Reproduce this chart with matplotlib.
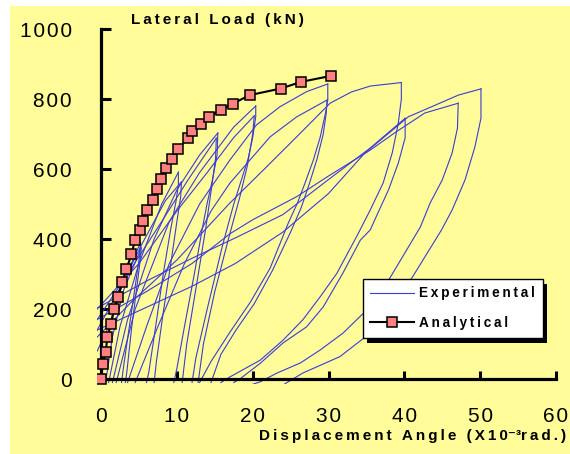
import numpy as np
import matplotlib.pyplot as plt
from matplotlib.patches import Rectangle

plt.rcParams['font.family'] = ['Liberation Sans', 'DejaVu Sans']

# analytical curve (x10^-3 rad, kN)
ana_x = [0, 0.22, 0.62, 0.83, 1.32, 1.72, 2.28, 2.77, 3.34, 4.0, 4.49, 5.12, 5.52,
         6.12, 6.8, 7.42, 7.88, 8.52, 9.38, 10.2, 11.5, 12.05, 13.15, 14.3, 15.8,
         17.4, 19.6, 23.7, 26.4, 30.3]
ana_y = [0, 42, 78, 120, 157, 199, 235, 277, 313, 356, 397, 426, 452,
         483, 511, 544, 571, 603, 630, 658, 690, 709, 729, 750, 769,
         787, 811, 830, 849, 866]

# experimental hysteresis, one list of (angle, load) per branch
load_05a = [(-0.5, 80), (1.0, 150), (2.5, 250), (4.0, 330), (5.2, 390)]
unload_05a = [(5.2, 390), (5.1, 355), (4.6, 280), (3.8, 160), (3.0, 40), (2.7, -10)]
load_05b = [(0.6, -10), (1.5, 120), (3.0, 255), (5.3, 375)]
unload_05b = [(5.3, 375), (5.2, 345), (4.7, 260), (4.0, 140), (3.4, 20), (3.2, -10)]
load_10a = [(1.0, -10), (2.5, 150), (5.0, 330), (8.0, 500), (10.2, 591)]
unload_10a = [(10.2, 591), (10.2, 555), (9.9, 510), (9.2, 430), (8.2, 300), (7.2, 150), (6.3, 20), (6.0, -10)]
load_10b = [(-0.5, 140), (2.5, 260), (5.5, 390), (8.5, 510), (10.6, 563)]
unload_10b = [(10.6, 563), (10.5, 520), (10.0, 450), (9.2, 330), (8.2, 190), (7.3, 50), (7.0, -10)]
load_15a = [(1.5, -10), (3.5, 170), (7.0, 400), (10.0, 540), (13.0, 640), (15.4, 703)]
unload_15a = [(15.4, 703), (15.3, 640), (14.7, 570), (14.0, 503), (13.4, 435), (12.3, 300), (11.0, 150), (10.0, 30), (9.6, -10)]
load_15b = [(-0.5, 170), (3.5, 300), (8.0, 450), (11.5, 570), (15.2, 688)]
unload_15b = [(15.2, 688), (15.1, 630), (14.6, 550), (13.8, 430), (12.6, 270), (11.3, 100), (10.7, -10)]
load_20a = [(2.0, -10), (4.5, 200), (9.0, 450), (13.0, 590), (17.5, 720), (20.4, 780)]
unload_20a = [(20.4, 780), (20.4, 750), (20.0, 690), (19.4, 630), (18.6, 575), (17.5, 500), (16.0, 380), (14.0, 200), (12.5, 60), (12.0, -10)]
load_20b = [(-0.5, 200), (5.0, 330), (10.0, 480), (14.0, 590), (17.5, 690), (20.2, 752)]
unload_20b = [(20.2, 752), (20.0, 700), (19.3, 610), (18.3, 520), (16.8, 400), (15.0, 250), (13.5, 100), (12.8, -10)]
load_30a = [(3.5, -10), (6.0, 150), (9.0, 330), (13.0, 500), (17.0, 626), (20.5, 726), (23.6, 778), (27.1, 821), (29.9, 843)]
unload_30a = [(29.9, 843), (29.9, 797), (29.6, 760), (28.9, 691), (28.0, 626), (26.9, 560), (25.9, 503), (24.7, 446), (22.3, 317), (19.7, 220), (17.0, 134), (14.5, 50), (13.0, -10)]
load_30b = [(4.5, -10), (7.5, 150), (11.0, 330), (14.5, 480), (17.0, 560), (22.3, 692), (25.8, 749), (29.8, 797)]
unload_30b = [(29.8, 797), (29.7, 760), (29.3, 700), (28.5, 630), (27.5, 560), (26.4, 490), (25.0, 420), (22.6, 310), (20.2, 215), (17.8, 140), (15.8, 70), (14.5, -10)]
load_40a = [(-0.5, 120), (4.0, 220), (10.0, 340), (17.0, 503), (21.4, 597), (25.8, 692), (30.2, 788), (33.0, 820), (35.5, 837), (39.6, 847)]
unload_40a = [(39.6, 847), (39.6, 800), (39.2, 731), (38.4, 646), (37.2, 560), (35.5, 483), (33.8, 411), (31.1, 302), (28.9, 235), (26.6, 169), (24.0, 111), (21.0, 54), (17.0, 6), (15.8, -10)]
load_40b = [(-0.5, 203), (6.0, 280), (12.0, 345), (17.7, 403), (24.0, 470), (30.0, 570), (35.5, 660), (40.1, 745)]
unload_40b = [(40.1, 745), (40.1, 689), (39.2, 617), (37.9, 540), (36.5, 474), (35.5, 426), (34.2, 397), (31.9, 303), (29.3, 206), (27.1, 149), (24.0, 103), (21.0, 45), (18.3, 0), (17.5, -10)]
load_47 = [(-0.5, 170), (6.0, 250), (12.0, 330), (17.0, 415), (20.0, 455), (25.8, 521), (30.0, 580), (35.5, 654), (38.7, 703), (42.7, 760), (47.1, 788)]
unload_47 = [(47.1, 788), (47.0, 717), (46.3, 646), (45.0, 569), (43.4, 503), (42.1, 434), (38.1, 289), (34.6, 188), (31.9, 131), (28.9, 83), (26.3, 46), (23.2, 17), (21.0, -8), (20.0, -15)]
load_50 = [(-0.5, 140), (6.0, 205), (12.0, 265), (17.7, 330), (24.0, 420), (30.0, 530), (34.8, 646), (38.7, 716), (40.5, 749), (43.6, 778), (47.1, 811), (50.1, 829)]
unload_50 = [(50.1, 829), (50.1, 745), (49.3, 663), (48.0, 569), (46.3, 483), (44.9, 426), (41.0, 289), (34.6, 116), (31.5, 64), (26.6, 17), (24.0, -17)]

exp_branches = [load_05a, unload_05a, load_05b, unload_05b, load_10a, unload_10a,
                load_10b, unload_10b, load_15a, unload_15a, load_15b, unload_15b,
                load_20a, unload_20a, load_20b, unload_20b, load_30a, unload_30a,
                load_30b, unload_30b, load_40a, unload_40a, load_40b, unload_40b,
                load_47, unload_47, load_50, unload_50]

x_ticks = [0, 10, 20, 30, 40, 50, 60]
y_ticks = [0, 200, 400, 600, 800, 1000]


def spaced(s, gap='\u2009'):
    # the original text is letter-spaced, thin spaces fake that
    return gap.join(s)


fig = plt.figure(figsize=(5.7, 4.54), dpi=100)
fig.patch.set_facecolor('white')
# yellow panel behind everything
fig.add_artist(Rectangle((10 / 570, 0), 1 - 10 / 570, 1 - 6 / 454, transform=fig.transFigure,
                         facecolor='#FFFC99', edgecolor='none', zorder=-5))

ax = fig.add_axes([0.1693, 0.15363, 0.8102, 0.78634])
ax.set_facecolor('none')

for i, br in enumerate(exp_branches):
    bx = [p[0] for p in br]
    by = [p[1] for p in br]
    ax.plot(bx, by, color='#3B3BD6', lw=0.8, label=spaced('Experimental') if i == 0 else None, zorder=2)

ax.plot(ana_x, ana_y, color='black', lw=1.5, marker='s', markersize=7,
        markerfacecolor='#FF8080', markeredgecolor='black', markeredgewidth=1.1,
        label=spaced('Analytical'), zorder=3)

ax.set_xlim(-0.6, 60.3)
ax.set_ylim(-15, 1005)
for s in ['top', 'right']:
    ax.spines[s].set_visible(False)
ax.spines['left'].set_position(('data', 0))
ax.spines['bottom'].set_position(('data', 0))
ax.spines['left'].set_bounds(0, 1000)
ax.spines['bottom'].set_bounds(0, 60)
ax.spines['left'].set_linewidth(2.3)
ax.spines['bottom'].set_linewidth(2.3)

ax.set_xticks(x_ticks, labels=[spaced(str(v), '\u200a') for v in x_ticks])
ax.set_yticks(y_ticks, labels=[spaced(str(v), '\u200a') for v in y_ticks])
ax.tick_params(axis='both', direction='in', width=2.2, labelsize=15)
ax.tick_params(axis='x', length=6, pad=20)
ax.tick_params(axis='y', length=7, pad=21)

fig.text(0.382, 0.956, spaced('Lateral Load (kN)'), fontsize=11, fontweight='bold', ha='center', va='center')
fig.text(0.7246, 0.0396, spaced('Displacement Angle (X10') + '\u207b\u00b3' + spaced('rad.)'),
         fontsize=11, fontweight='bold', ha='center', va='center')

leg = ax.legend(loc='upper left', bbox_to_anchor=(363 / 570, 1 - 279 / 454), bbox_transform=fig.transFigure,
                frameon=True, fancybox=False, edgecolor='black', framealpha=1,
                prop={'weight': 'bold', 'size': 9.8},
                handlelength=3.2, handletextpad=0.4, labelspacing=1.15, borderpad=0.55,
                borderaxespad=0, numpoints=1)
leg.get_frame().set_linewidth(1.0)

# solid black drop shadow, a bit further out than the built-in one
fig.canvas.draw()
bb = leg.get_window_extent()
ax.add_patch(Rectangle((bb.x0 + 4, bb.y0 - 5), bb.width, bb.height, transform=None,
                       facecolor='black', edgecolor='none', zorder=4.9, clip_on=False))

fig.savefig('out.png', dpi=100)
